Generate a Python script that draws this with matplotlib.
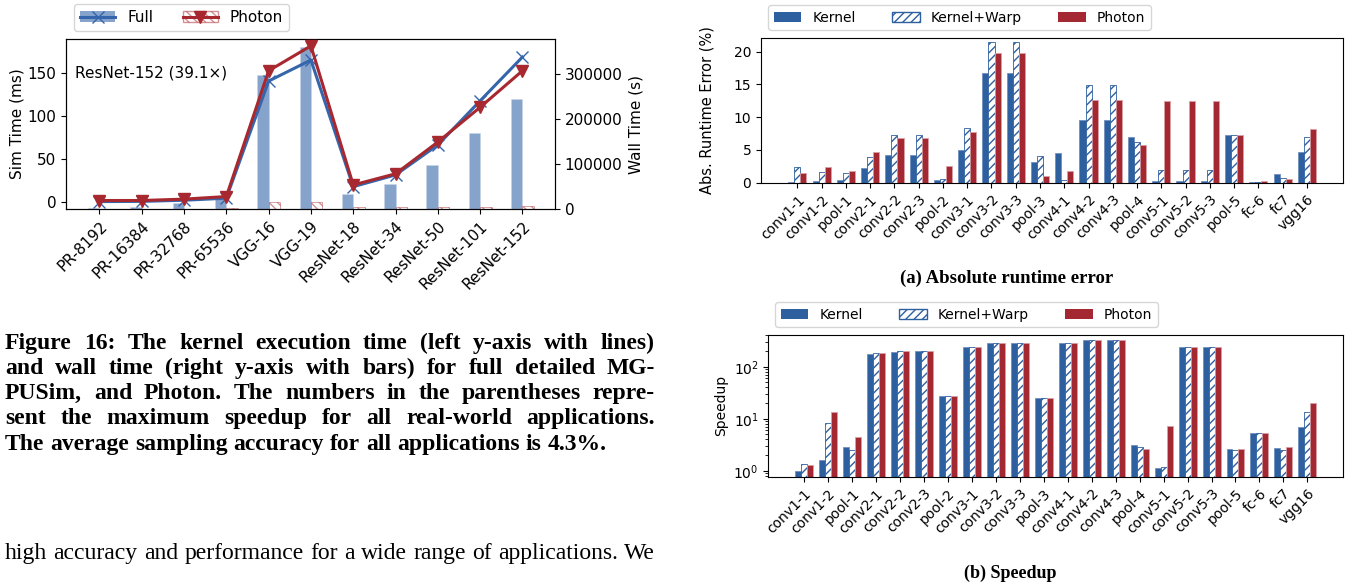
import numpy as np
import matplotlib
matplotlib.use("Agg")
import matplotlib.pyplot as plt
from matplotlib.patches import Patch
from matplotlib.lines import Line2D

W, H = 1347, 584

# ── Figure 16 data (left) ─────────────────────────────────────────────────────
apps = ["PR-8192", "PR-16384", "PR-32768", "PR-65536", "VGG-16", "VGG-19",
        "ResNet-18", "ResNet-34", "ResNet-50", "ResNet-101", "ResNet-152"]
full_sim = [0.6, 0.9, 2.2, 4.6, 141, 165.5, 18, 31.7, 66.6, 118, 169]
photon_sim = [1.9, 1.9, 3.5, 6.5, 153, 182, 20, 33, 70, 110.5, 153]
full_wall = [2000, 3500, 12500, 23000, 298000, 360000, 33300, 56000, 98500, 169500, 244000]
photon_wall = [600, 700, 900, 1200, 15500, 15500, 3500, 3500, 4500, 5000, 6000]

# ── VGG16 layer data (right) ──────────────────────────────────────────────────
layers = ["conv1-1", "conv1-2", "pool-1", "conv2-1", "conv2-2", "conv2-3", "pool-2",
          "conv3-1", "conv3-2", "conv3-3", "pool-3", "conv4-1", "conv4-2", "conv4-3",
          "pool-4", "conv5-1", "conv5-2", "conv5-3", "pool-5", "fc-6", "fc7", "vgg16"]
err_kernel = [0.1, 0.3, 0.46, 2.25, 4.28, 4.28, 0.46, 5.0, 16.7, 16.7, 3.1, 4.53,
              9.52, 9.52, 6.98, 0.3, 0.3, 0.3, 7.33, 0.15, 1.37, 4.69]
err_warp = [2.4, 1.63, 1.43, 3.92, 7.23, 7.23, 0.62, 8.3, 21.43, 21.43, 4.03, 0.36,
            14.87, 14.87, 6.17, 1.89, 1.89, 1.89, 7.33, 0.15, 0.72, 6.93]
err_photon = [1.5, 2.35, 1.78, 4.69, 6.77, 6.77, 2.6, 7.8, 19.85, 19.85, 1.07, 1.83,
              12.63, 12.63, 5.76, 12.47, 12.47, 12.47, 7.33, 0.2, 0.56, 8.15]
sp_kernel = [1.0, 1.58, 2.86, 173, 189, 203, 27, 236, 282, 282, 24.7, 290,
             322, 322, 3.07, 1.14, 243, 243, 2.58, 5.24, 2.73, 6.83]
sp_warp = [1.33, 8.4, 2.47, 181, 203, 203, 27, 236, 282, 282, 24.7, 290,
           322, 322, 2.86, 1.18, 243, 243, 2.5, 5.24, 2.5, 13.3]
sp_photon = [1.29, 13.6, 4.45, 181, 203, 203, 27, 236, 282, 282, 24.7, 290,
             322, 322, 2.61, 7.24, 243, 243, 2.58, 5.24, 2.86, 20]

BLUE = "#2e5f9f"
RED = "#a32832"
LINE_BLUE = "#3566ab"
LINE_RED = "#a8282f"

plt.rcParams["hatch.linewidth"] = 1.0
fig = plt.figure(figsize=(W / 100, H / 100), dpi=100)

# ── Left chart: sim time (lines) and wall time (bars) ─────────────────────────
ax = fig.add_axes([66 / W, 1 - 209 / H, 489 / W, 170 / H])
ax2 = ax.twinx()
x = np.arange(len(apps))
bw = 0.27
ax2.bar(x - bw / 2, full_wall, bw, color=LINE_BLUE, alpha=0.6, edgecolor="#c8d4e6", lw=0.6)
ax2.bar(x + bw / 2, photon_wall, bw, color="white", edgecolor=LINE_RED, hatch="\\\\\\\\",
        alpha=0.5, lw=0.6)
ax2.set_ylim(0, 378000)
ax2.set_ylabel("Wall Time (s)", fontsize=11)
ax2.tick_params(labelsize=11)

ax.plot(x, full_sim, color=LINE_BLUE, lw=2.2, marker="x", ms=8, zorder=5)
ax.plot(x, photon_sim, color=LINE_RED, lw=2.2, marker="v", ms=8, zorder=6)
ax.set_zorder(ax2.get_zorder() + 1)
ax.patch.set_visible(False)
ax.set_xlim(-0.79, 10.77)
ax.set_ylim(-8, 190)
ax.set_yticks([0, 50, 100, 150])
ax.set_ylabel("Sim Time (ms)", fontsize=11, labelpad=2)
ax.set_xticks(x)
ax.set_xticklabels(apps, rotation=45, ha="right", rotation_mode="anchor", fontsize=11)
ax.tick_params(axis="y", labelsize=11)
ax.text(0.018, 0.8, "ResNet-152 (39.1\u00d7)", transform=ax.transAxes,
        va="center", ha="left", fontsize=11)

h_full = (Patch(facecolor=LINE_BLUE, alpha=0.6),
          Line2D([], [], color=LINE_BLUE, lw=2.2, marker="x", ms=8))
h_phot = (Patch(facecolor="white", edgecolor=LINE_RED, hatch="\\\\\\\\", alpha=0.5),
          Line2D([], [], color=LINE_RED, lw=2.2, marker="v", ms=8))
fig.legend([h_full, h_phot], ["Full", "Photon"], ncol=2, fontsize=11,
           loc="upper left", bbox_to_anchor=(74 / W, 1 - 4 / H),
           handlelength=2.3, columnspacing=1.9, borderaxespad=0)

# ── Right charts: per-layer error and speedup ─────────────────────────────────
xl = np.arange(len(layers))
w = 0.25


def layer_bars(a, k, kw, ph):
    a.bar(xl - w, k, w, color=BLUE, edgecolor="#6f90bf", lw=0.6)
    a.bar(xl, kw, w, color="white", edgecolor=BLUE, hatch="////", lw=0.6)
    a.bar(xl + w, ph, w, color=RED, edgecolor="#d9a0a4", lw=0.6)
    a.set_xlim(-1.5, 22.5)
    a.set_xticks(xl)
    a.set_xticklabels(layers, rotation=45, ha="right", rotation_mode="anchor", fontsize=10)
    a.tick_params(axis="y", labelsize=10)


axa = fig.add_axes([761 / W, 1 - 182.7 / H, 582.3 / W, 144.4 / H])
layer_bars(axa, err_kernel, err_warp, err_photon)
axa.set_ylim(0, 22.05)
axa.set_yticks([0, 5, 10, 15, 20])
axa.set_ylabel("Abs. Runtime Error (%)", fontsize=10.5, labelpad=14)

axb = fig.add_axes([768.3 / W, 1 - 476.7 / H, 575 / W, 142 / H])
axb.set_yscale("log")
layer_bars(axb, sp_kernel, sp_warp, sp_photon)
axb.set_ylim(0.77, 412)
axb.set_ylabel("Speedup", fontsize=10)

lh = [Patch(facecolor=BLUE), Patch(facecolor="white", edgecolor=BLUE, hatch="////"),
      Patch(facecolor=RED)]
ln = ["Kernel", "Kernel+Warp", "Photon"]
fig.legend(lh, ln, ncol=3, fontsize=10, loc="upper left",
           bbox_to_anchor=(768 / W, 1 - 5 / H), borderaxespad=0, columnspacing=2.6)
fig.legend(lh, ln, ncol=3, fontsize=10, loc="upper left",
           bbox_to_anchor=(775 / W, 1 - 302 / H), borderaxespad=0, columnspacing=2.6)

fig.text(1007 / W, 1 - 283 / H, "(a) Absolute runtime error", ha="center", va="baseline",
         weight="bold", family="Liberation Serif", fontsize=13.5)
fig.text(1010 / W, 1 - 578 / H, "(b) Speedup", ha="center", va="baseline",
         weight="bold", family="Liberation Serif", fontsize=13)

# ── Caption text, justified word by word ──────────────────────────────────────
caption = [
    ("Figure 16: The kernel execution time (left y-axis with lines)", 349, True, "bold", 17),
    ("and wall time (right y-axis with bars) for full detailed MG-", 374, True, "bold", 17),
    ("PUSim, and Photon. The numbers in the parentheses repre-", 399, True, "bold", 17),
    ("sent the maximum speedup for all real-world applications.", 424, True, "bold", 17),
    ("The average sampling accuracy for all applications is 4.3%.", 450, False, "bold", 17),
    ("high accuracy and performance for a wide range of applications. We", 559, True,
     "normal", 17),
]
renderer = fig.canvas.get_renderer()
x0, x1 = 5, 655
for line, yy, justify, wt, fs in caption:
    words = line.split()
    texts = [fig.text(0, 1 - yy / H, wd, va="baseline", ha="left", weight=wt,
                      family="Liberation Serif", fontsize=fs) for wd in words]
    widths = [t.get_window_extent(renderer).width for t in texts]
    if justify:
        gap = (x1 - x0 - sum(widths)) / (len(words) - 1)
    else:
        gap = fs * 100 / 72 * 0.25
    pos = x0
    for t, wd in zip(texts, widths):
        t.set_x(pos / W)
        pos += wd + gap

fig.savefig("out.png", dpi=100)
